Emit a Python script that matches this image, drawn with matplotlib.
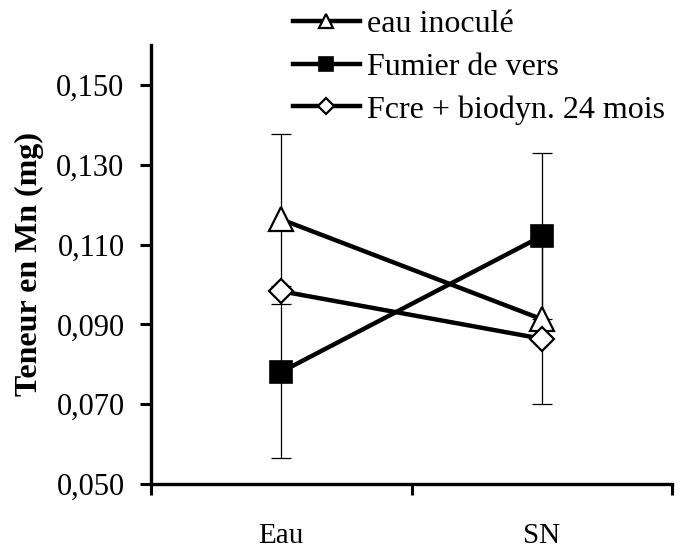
import matplotlib
matplotlib.use('Agg')
import matplotlib.pyplot as plt
import numpy as np

plt.rcParams['font.family'] = ['Liberation Serif', 'DejaVu Serif']

categories = ['Eau', 'SN']
series_names = ['eau inoculé', 'Fumier de vers', 'Fcre + biodyn. 24 mois']
eau_inocule = [0.1163, 0.0913]
eau_inocule_err = [0.0213, 0.0212]
fumier = [0.0781, 0.1121]
fumier_err = [0.0216, 0.0208]
fcre = [0.0983, 0.0864]
yticks = [0.050, 0.070, 0.090, 0.110, 0.130, 0.150]

fig = plt.figure(figsize=(6.83, 5.48), dpi=100)
ax = fig.add_axes([151/683, 1-484/548, 521/683, 439/548])

x = np.arange(len(categories)) + 0.5

# error bars (thin) behind the lines
for vals, errs in ((eau_inocule, eau_inocule_err), (fumier, fumier_err)):
    ax.errorbar(x, vals, yerr=errs, fmt='none', ecolor='black',
                elinewidth=0.9, capsize=7, capthick=0.9, zorder=1)

ax.plot(x, eau_inocule, '-^', color='black', lw=3.2, ms=17,
        mfc='white', mec='black', mew=1.6, label=series_names[0], zorder=3)
ax.plot(x, fumier, '-s', color='black', lw=3.2, ms=16,
        mfc='black', mec='black', mew=1.2, label=series_names[1], zorder=3)
ax.plot(x, fcre, '-D', color='black', lw=3.2, ms=12.5,
        mfc='white', mec='black', mew=1.6, label=series_names[2], zorder=3)

ax.set_xlim(0, 2)
ax.set_ylim(0.05, 0.16)
ax.set_yticks(yticks)
ax.set_yticklabels([('%.3f' % v).replace('.', ',') for v in yticks], fontsize=22)
ax.set_xticks([0, 1, 2])
ax.set_xticklabels([])
ax.set_xticks(x, minor=True)
ax.set_xticklabels(categories, minor=True, fontsize=21)
ax.tick_params(axis='x', which='minor', length=0, pad=28)
ax.tick_params(axis='x', which='major', direction='out', length=8, width=2.2)
ax.tick_params(axis='y', direction='out', length=8, width=2.2, pad=11)

for side in ('top', 'right'):
    ax.spines[side].set_visible(False)
for side in ('left', 'bottom'):
    ax.spines[side].set_linewidth(2.4)

ax.set_ylabel('Teneur en Mn (mg)', fontsize=23, fontweight='bold', labelpad=9)

fig.legend(loc='upper left', bbox_to_anchor=(283/683, 1.0), frameon=False,
           fontsize=23, handlelength=2.1, handletextpad=0.22,
           labelspacing=0.42, borderpad=0.3, borderaxespad=0, markerscale=0.62)

fig.savefig('out.png', dpi=100)
